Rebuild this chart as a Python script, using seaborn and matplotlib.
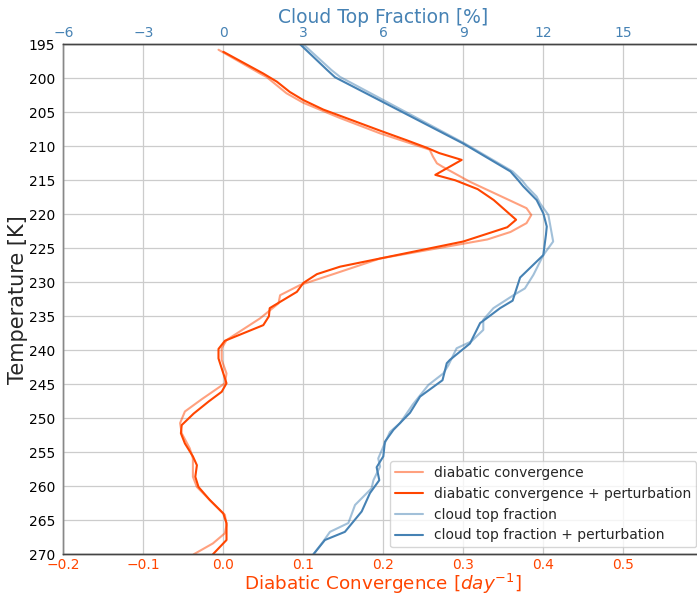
import matplotlib
matplotlib.use("Agg")
import matplotlib.pyplot as plt
import pandas as pd
import seaborn as sns

# Diabatic convergence [day^-1] against temperature [K]
dc_temp = [195.8, 199.3, 199.8, 202.2, 203.6, 205.8, 208.1, 210.5, 211.5, 212.5, 213.0,
           215.2, 219.1, 220.1, 221.3, 222.6, 223.7, 226.5, 228.7, 230.4, 231.9, 233.1,
           235.3, 238.5, 239.7, 241.4, 243.4, 244.85, 247.2, 249.0, 250.7, 252.2, 254.4,
           255.9, 258.6, 260.1, 262.0, 264.2, 265.7, 266.9, 268.4, 270.0]
dc_base = [-0.006, 0.046, 0.054, 0.079, 0.100, 0.145, 0.196, 0.258, 0.262, 0.267, 0.274,
           0.308, 0.379, 0.385, 0.379, 0.359, 0.330, 0.196, 0.140, 0.096, 0.071, 0.069,
           0.046, 0.004, -0.002, -0.002, 0.004, 0.002, -0.027, -0.048, -0.054, -0.052, -0.042,
           -0.038, -0.038, -0.033, -0.017, 0.002, 0.004, 0.002, -0.013, -0.037]

dcp_temp = [196.1, 199.3, 200.5, 202.0, 203.2, 204.6, 205.6, 207.7, 209.1, 210.2, 211.0,
            212.0, 214.2, 215.0, 216.3, 217.9, 220.8, 221.9, 224.0, 227.7, 228.8, 230.1,
            231.4, 233.8, 235.0, 236.3, 238.6, 239.8, 241.2, 244.85, 246.1, 247.5, 249.3,
            251.0, 252.2, 253.7, 255.6, 256.9, 258.6, 260.1, 262.0, 264.0, 265.4, 267.9, 270.0]
dcp_pert = [0.000, 0.050, 0.067, 0.083, 0.100, 0.125, 0.148, 0.196, 0.229, 0.254, 0.270,
            0.298, 0.265, 0.290, 0.318, 0.338, 0.366, 0.355, 0.300, 0.146, 0.117, 0.100,
            0.092, 0.058, 0.057, 0.050, 0.002, -0.006, -0.006, 0.004, -0.002, -0.018, -0.037,
            -0.052, -0.053, -0.048, -0.038, -0.033, -0.035, -0.031, -0.017, 0.000, 0.004, 0.004, -0.013]

# Cloud top fraction [%] against temperature [K]
ctf_temp = [195.0, 198.8, 199.8, 209.6, 213.7, 215.0, 215.9, 217.4, 218.4, 220.1, 224.0,
            226.0, 228.9, 230.9, 231.9, 233.8, 235.5, 237.0, 238.7, 239.7, 242.2, 243.4,
            245.1, 248.0, 250.7, 252.0, 253.9, 255.9, 257.1, 259.1, 260.3, 262.75, 265.4,
            266.7, 268.1, 270.0]
ctf_base = [3.00, 4.06, 4.38, 9.06, 10.85, 11.20, 11.38, 11.75, 11.88, 12.19, 12.37,
            12.00, 11.63, 11.31, 10.88, 10.13, 9.75, 9.75, 9.30, 8.75, 8.44, 8.25,
            7.69, 7.10, 6.63, 6.25, 6.03, 5.81, 5.88, 5.63, 5.56, 4.94, 4.69,
            4.00, 3.75, 3.38]

ctfp_temp = [195.0, 198.8, 199.85, 209.6, 213.7, 215.0, 215.9, 217.9, 219.85, 221.8, 223.0,
             226.0, 229.3, 232.7, 233.8, 235.1, 236.0, 239.0, 241.4, 241.9, 244.4, 246.8,
             249.2, 251.7, 253.45, 255.6, 257.2, 259.1, 261.0, 263.7, 266.7, 267.9, 270.0]
ctfp_pert = [2.88, 3.90, 4.19, 9.00, 10.77, 11.06, 11.25, 11.75, 12.00, 12.13, 12.10,
             12.00, 11.13, 10.85, 10.38, 9.94, 9.63, 9.25, 8.50, 8.38, 8.22, 7.38,
             7.00, 6.38, 6.06, 6.00, 5.75, 5.85, 5.50, 5.19, 4.56, 3.81, 3.38]

labels = ["diabatic convergence", "diabatic convergence + perturbation",
          "cloud top fraction", "cloud top fraction + perturbation"]
dc_ticks = [-0.2, -0.1, 0.0, 0.1, 0.2, 0.3, 0.4, 0.5]
ctf_ticks = [-6, -3, 0, 3, 6, 9, 12, 15]
temp_ticks = list(range(195, 271, 5))

sns.set_theme(style="whitegrid", rc={
    "grid.color": "#cccccc", "grid.linewidth": 0.9,
    "axes.edgecolor": "#555555", "axes.linewidth": 1.0,
})
plt.rcParams["font.family"] = ["DejaVu Sans"]

ORANGE = "#ff4500"
BLUE = "#4682b4"

fig = plt.figure(figsize=(6.97, 5.96), dpi=100)
ax = fig.add_axes([63.3 / 697, 41.7 / 596, 640 / 697, 510 / 596])
ax2 = ax.twiny()

df_dc = pd.DataFrame({"T": dc_temp, "v": dc_base})
df_dcp = pd.DataFrame({"T": dcp_temp, "v": dcp_pert})
df_ctf = pd.DataFrame({"T": ctf_temp, "f": ctf_base})
df_ctfp = pd.DataFrame({"T": ctfp_temp, "f": ctfp_pert})

sns.lineplot(data=df_dc, x="v", y="T", sort=False, estimator=None, ax=ax,
             color=ORANGE, alpha=0.5, lw=1.5, label=labels[0], legend=False)
sns.lineplot(data=df_dcp, x="v", y="T", sort=False, estimator=None, ax=ax,
             color=ORANGE, lw=1.5, label=labels[1], legend=False)
sns.lineplot(data=df_ctf, x="f", y="T", sort=False, estimator=None, ax=ax2,
             color=BLUE, alpha=0.5, lw=1.5, label=labels[2], legend=False)
sns.lineplot(data=df_ctfp, x="f", y="T", sort=False, estimator=None, ax=ax2,
             color=BLUE, lw=1.5, label=labels[3], legend=False)

ax.set_ylim(270, 195)
ax.set_yticks(temp_ticks)
ax.set_xlim(-0.2, 0.6)
ax.set_xticks(dc_ticks)
ax2.set_xlim(-6, 18)
ax2.set_xticks(ctf_ticks)
ax2.grid(False)
ax.grid(True)

ax.set_xlabel("Diabatic Convergence [$day^{-1}$]", color=ORANGE, fontsize=13.2, labelpad=0)
ax.set_ylabel("Temperature [K]", fontsize=15, labelpad=0)
ax2.set_xlabel("Cloud Top Fraction [%]", color=BLUE, fontsize=13.5, labelpad=2.5)
ax.tick_params(axis="x", colors=ORANGE, labelsize=10, length=0, pad=2.5)
ax.tick_params(axis="y", labelsize=10, length=0, pad=6, labelcolor="black")
ax2.tick_params(axis="x", colors=BLUE, labelsize=10, length=0, pad=3)
for a in (ax, ax2):
    for s in ("top", "bottom"):
        a.spines[s].set_color("#444444")
    for s in ("left", "right"):
        a.spines[s].set_color("#888888")

h1, l1 = ax.get_legend_handles_labels()
h2, l2 = ax2.get_legend_handles_labels()
leg = ax2.legend(h1 + h2, l1 + l2, loc="lower right", fontsize=10, borderpad=0.35,
                 frameon=True, framealpha=0.8, edgecolor="#cccccc", fancybox=True)

fig.savefig("out.png", dpi=100)
